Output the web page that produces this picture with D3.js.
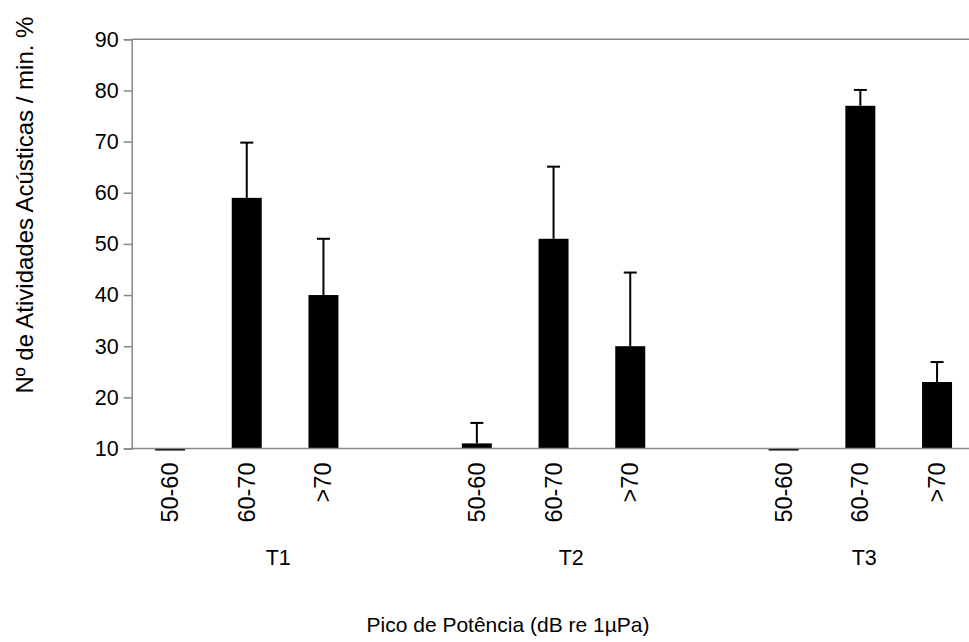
<!DOCTYPE html>
<html><head><meta charset="utf-8">
<script src="https://cdn.jsdelivr.net/npm/d3@7"></script>
<style>body{margin:0;background:#fff}svg{display:block}</style>
</head><body><svg id="c" width="969" height="642"></svg>
<script>
const groups = ["T1","T2","T3"];
const classes = ["50-60","60-70",">70"];
const values = [9.6, 59, 40, 11, 51, 30, 9.6, 77, 23];
const errors = [0, 10.8, 11, 4, 14.1, 14.4, 0, 3.1, 3.9];
const yTicks = [10,20,30,40,50,60,70,80,90];
const yTitle = "Nº de Atividades Acústicas / min. %";
const xTitle = "Pico de Potência (dB re 1µPa)";

const slots = [];
groups.forEach((g,gi)=>classes.forEach((c,ci)=>slots.push({key:g+"|"+c, g, c, i:slots.length})));
const slotKeys = [];
groups.forEach((g,gi)=>{classes.forEach(c=>slotKeys.push(g+"|"+c)); if(gi<groups.length-1) slotKeys.push("gap"+gi);});

const svg = d3.select("#c");
const left = 131.7, slotW = 76.7;
const x = d3.scaleBand().domain(slotKeys).range([left, left + slotW*slotKeys.length]).paddingInner(0.609).paddingOuter(0.3045);
const xg = d3.scaleBand().domain(groups).range([left, left + 879]);
const y = d3.scaleLinear().domain([10,90]).range([448.5, 39.3]);
const axisColor = "#878787";
const font = "Liberation Sans, Arial, sans-serif";

const data = slots.map((s,i)=>({...s, v: values[i], e: errors[i]}));

svg.append("line").attr("x1",left).attr("x2",969).attr("y1",y(90)).attr("y2",y(90))
  .attr("stroke",axisColor).attr("stroke-width",1.5);

svg.append("g").selectAll("rect").data(data).join("rect")
  .attr("x",d=>x(d.key)).attr("width",x.bandwidth())
  .attr("y",d=>Math.min(y(d.v),y(10))).attr("height",d=>Math.abs(y(d.v)-y(10)))
  .attr("fill","#000");

const eb = svg.append("g").selectAll("g").data(data.filter(d=>d.e>0)).join("g");
eb.append("line").attr("x1",d=>x(d.key)+x.bandwidth()/2).attr("x2",d=>x(d.key)+x.bandwidth()/2)
  .attr("y1",d=>y(d.v)).attr("y2",d=>y(d.v+d.e)).attr("stroke","#000").attr("stroke-width",2);
eb.append("line").attr("x1",d=>x(d.key)+x.bandwidth()/2-6.5).attr("x2",d=>x(d.key)+x.bandwidth()/2+6.5)
  .attr("y1",d=>y(d.v+d.e)).attr("y2",d=>y(d.v+d.e)).attr("stroke","#000").attr("stroke-width",2);

const ya = svg.append("g").attr("transform",`translate(${left},0)`)
  .call(d3.axisLeft(y).tickValues(yTicks).tickSize(8).tickPadding(5));
ya.select(".domain").attr("stroke",axisColor).attr("stroke-width",1.5);
ya.selectAll(".tick line").attr("stroke",axisColor).attr("stroke-width",1.5);
ya.selectAll(".tick text").attr("font-family",font).attr("font-size",21.5).attr("fill","#000");

svg.append("line").attr("x1",left).attr("x2",969).attr("y1",y(10)).attr("y2",y(10))
  .attr("stroke",axisColor).attr("stroke-width",1.5);

svg.append("g").selectAll("text").data(data).join("text")
  .attr("transform",d=>`translate(${x(d.key)+x.bandwidth()/2+8},${y(10)+14}) rotate(-90)`)
  .attr("text-anchor","end").attr("font-family",font)
  .attr("font-size",23.5).attr("fill","#000").text(d=>d.c);

svg.append("g").selectAll("text").data(groups).join("text")
  .attr("x",d=>xg(d)+xg.bandwidth()/2).attr("y",564.5).attr("text-anchor","middle")
  .attr("font-family",font).attr("font-size",21.5).attr("fill","#000").text(d=>d);

svg.append("text").attr("x",508).attr("y",632).attr("text-anchor","middle")
  .attr("font-family",font).attr("font-size",21).attr("fill","#000").text(xTitle);
svg.append("text").attr("transform","translate(33,205) rotate(-90)").attr("text-anchor","middle")
  .attr("font-family",font).attr("font-size",24).attr("fill","#000").text(yTitle);
</script></body></html>
